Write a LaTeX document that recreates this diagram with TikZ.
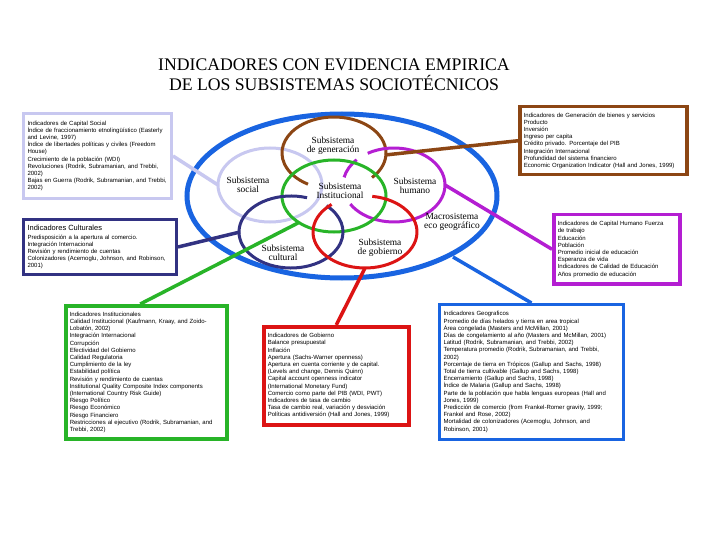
\documentclass[tikz,border=0pt]{standalone}
\usepackage{fontspec}
\setmainfont{Liberation Serif}
\newfontfamily\boxfont{Liberation Sans}
\usetikzlibrary{positioning,calc}
\definecolor{ssBlue}{RGB}{25,100,225}
\definecolor{ssLav}{RGB}{200,200,240}
\definecolor{ssBrown}{RGB}{140,70,20}
\definecolor{ssPurple}{RGB}{180,30,210}
\definecolor{ssNavy}{RGB}{50,50,130}
\definecolor{ssRed}{RGB}{220,20,20}
\definecolor{ssGreen}{RGB}{40,180,40}

\begin{document}
\begin{tikzpicture}[x=1pt,y=-1pt,
  ring/.style={line width=3pt},
  link/.style={line width=3.5pt},
  ind/.style={draw,line width=3.5pt,fill=white,anchor=north west,align=left,inner xsep=4pt,inner ysep=2pt,font=\boxfont\fontsize{6}{7.2}\selectfont},
  lbl/.style={align=center,font=\fontsize{9.4}{8.6}\selectfont,inner sep=0pt}
]
  \fill[white] (0,0) rectangle (720,540);
  \useasboundingbox (0,0) rectangle (720,540);

  \node[align=center,font=\fontsize{17.7}{20}\selectfont] (titulo) at (334,75) {INDICADORES CON EVIDENCIA EMPIRICA\\DE LOS SUBSISTEMAS SOCIOTÉCNICOS};

  \draw[ssBlue,line width=5pt] (342,196) ellipse [x radius=155,y radius=82];
  \draw[ring,ssLav] (270,185) ellipse [x radius=52,y radius=37];
  \draw[ring,ssBrown] (334,153) ++(43:52 and 36) arc[start angle=43,end angle=-240,x radius=52,y radius=36];
  \draw[ring,ssPurple] (394,185) ++(-121:51 and 37) arc[start angle=-121,end angle=149,x radius=51,y radius=37];
  \draw[ring,ssPurple] (394,185) ++(-137:51 and 37) arc[start angle=-137,end angle=-168,x radius=51,y radius=37];
  \draw[ring,ssGreen] (334,196) ellipse [x radius=52,y radius=36];
  \draw[ring,ssNavy] (291,232) ++(-72:52 and 36) arc[start angle=-72,end angle=-407,x radius=52,y radius=36];
  \draw[ring,ssRed] (365,232) ++(-82:52 and 36) arc[start angle=-82,end angle=230,x radius=52,y radius=36];

  \coordinate (socR) at (218,185);
  \coordinate (culR) at (240,232);
  \coordinate (insR) at (298,223);
  \coordinate (genR) at (385,155);
  \coordinate (humR) at (445,185);
  \coordinate (govR) at (365,268);
  \coordinate (macR) at (453,257);

  \node[lbl] (lgen) at (333,146) {Subsistema\\de generación};
  \node[lbl] (lsoc) at (248,185) {Subsistema\\social};
  \node[lbl] (lins) at (340,191) {Subsistema\\Institucional};
  \node[lbl] (lhum) at (415,186) {Subsistema\\humano};
  \node[lbl] (lmac) at (452,222) {Macrosistema\\eco geográfico};
  \node[lbl] (lcul) at (283,253) {Subsistema\\cultural};
  \node[lbl] (lgov) at (380,248) {Subsistema\\de gobierno};

  \node[ind,draw=ssLav,line width=3pt,text width=140pt,minimum height=85pt] (social) at (22,112) {Indicadores de Capital Social\\
    Índice de fraccionamiento etnolingüístico (Easterly\\and Levine, 1997)\\
    Índice de libertades políticas y civiles (Freedom\\House)\\
    Crecimiento de la población (WDI)\\
    Revoluciones (Rodrik, Subramanian, and Trebbi,\\2002)\\
    Bajas en Guerra (Rodrik, Subramanian, and Trebbi,\\2002)};
  \node[ind,draw=ssNavy,line width=3pt,text width=145pt,minimum height=55pt] (cultural) at (22,218) {{\fontsize{7.5}{9}\selectfont Indicadores Culturales}\\[1.5pt]
    Predisposición a la apertura al comercio.\\
    Integración Internacional\\
    Revisión y rendimiento de cuentas\\
    Colonizadores (Acemoglu, Johnson, and Robinson,\\2001)};
  \node[ind,draw=ssGreen,text width=153pt,minimum height=133pt] (institucional) at (64,304) {Indicadores Institucionales\\
    Calidad Institucional (Kaufmann, Kraay, and Zoido-\\Lobatón, 2002)\\
    Integración Internacional\\
    Corrupción\\
    Efectividad del Gobierno\\
    Calidad Regulatoria\\
    Cumplimiento de la ley\\
    Estabilidad política\\
    Revisión y rendimiento de cuentas\\
    Institutional Quality Composite Index components\\
    (International Country Risk Guide)\\
    Riesgo Político\\
    Riesgo Económico\\
    Riesgo Financiero\\
    Restricciones al ejecutivo (Rodrik, Subramanian, and\\Trebbi, 2002)};
  \node[ind,draw=ssRed,text width=137pt,minimum height=98pt] (gobierno) at (262,325) {Indicadores de Gobierno\\
    Balance presupuestal\\
    Inflación\\
    Apertura (Sachs-Warner openness)\\
    Apertura en cuenta corriente y de capital.\\
    (Levels and change, Dennis Quinn)\\
    Capital account openness indicator\\
    (International Monetary Fund)\\
    Comercio como parte del PIB (WDI, PWT)\\
    Indicadores de tasa de cambio\\
    Tasa de cambio real, variación y desviación\\
    Políticas antidiversión (Hall and Jones, 1999)};
  \node[ind,draw=ssBrown,text width=159pt,minimum height=68pt] (generacion) at (518,105) {Indicadores de Generación de bienes y servicios\\
    Producto\\
    Inversión\\
    Ingreso per capita\\
    Crédito privado. Porcentaje del PIB\\
    Integración Internacional\\
    Profundidad del sistema financiero\\
    Economic Organization Indicator (Hall and Jones, 1999)};
  \node[ind,draw=ssPurple,text width=118pt,minimum height=69pt] (humano) at (552,213) {Indicadores de Capital Humano Fuerza\\de trabajo\\
    Educación\\
    Población\\
    Promedio inicial de educación\\
    Esperanza de vida\\
    Indicadores de Calidad de Educación\\
    Años promedio de educación};
  \node[ind,draw=ssBlue,line width=3pt,text width=176pt,minimum height=135pt] (geografico) at (438,303) {Indicadores Geograficos\\
    Promedio de días helados y tierra en area tropical\\
    Área congelada (Masters and McMillan, 2001)\\
    Días de congelamiento al año (Masters and McMillan, 2001)\\
    Latitud (Rodrik, Subramanian, and Trebbi, 2002)\\
    Temperatura promedio (Rodrik, Subramanian, and Trebbi,\\2002)\\
    Porcentaje de tierra en Trópicos (Gallup and Sachs, 1998)\\
    Total de tierra cultivable (Gallup and Sachs, 1998)\\
    Encerramiento (Gallup and Sachs, 1998)\\
    Índice de Malaria (Gallup and Sachs, 1998)\\
    Parte de la población que habla lenguas europeas (Hall and\\Jones, 1999)\\
    Predicción de comercio (from Frankel-Romer gravity, 1999;\\Frankel and Rose, 2002)\\
    Mortalidad de colonizadores (Acemoglu, Johnson, and\\Robinson, 2001)};

  \draw[link,ssLav] (social.east) -- (socR);
  \draw[link,ssNavy] (cultural.east) -- (culR);
  \draw[link,ssGreen] ([xshift=-6pt]institucional.north) -- (insR);
  \draw[link,ssRed] (gobierno.north) -- (govR);
  \draw[link,ssBrown] (generacion.west) -- (genR);
  \draw[link,ssPurple] (humano.west) -- (humR);
  \draw[link,ssBlue] (geografico.north) -- (macR);
\end{tikzpicture}
\end{document}
